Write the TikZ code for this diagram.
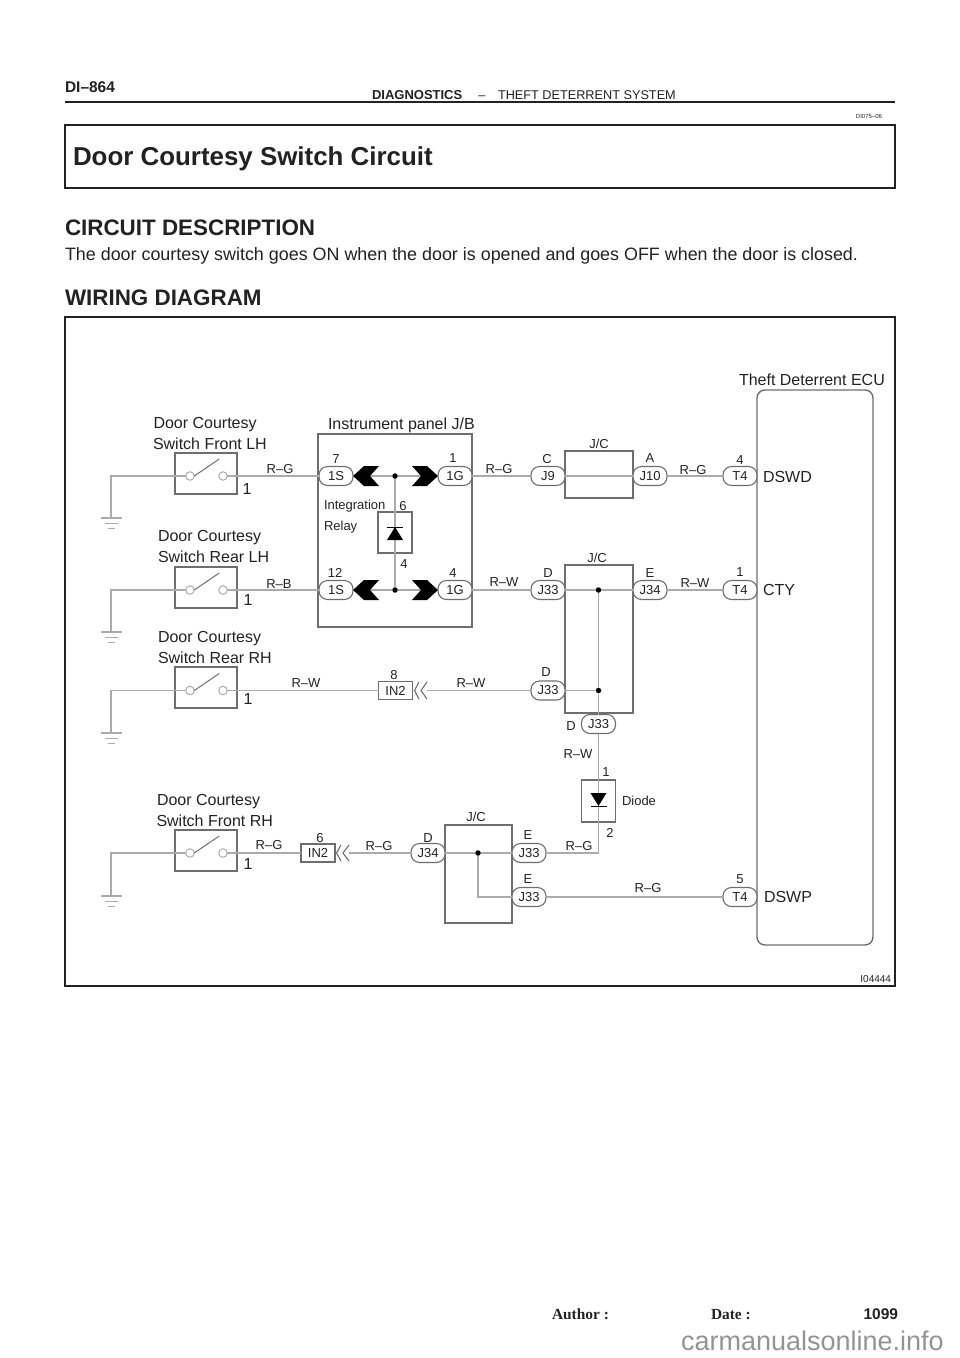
\documentclass[tikz,border=0pt]{standalone}
\usepackage{fontspec}
\setmainfont{Liberation Sans}
\newfontfamily\timesf{Liberation Serif}
\definecolor{ink}{HTML}{222222}
\definecolor{wirec}{HTML}{ABABAB}
\definecolor{boxc}{HTML}{6E6E6E}
\newcommand{\fs}[1]{\fontsize{#1}{#1}\selectfont}
\tikzset{
  every node/.style={inner sep=0pt,outer sep=0pt,text=ink},
  small/.style={font=\fs{13}},
  big/.style={font=\fs{16}},
  wire/.style={draw=wirec,line width=1.2pt},
  boxl/.style={draw=boxc,line width=1.4pt},
  pill/.style={draw=boxc,fill=white,line width=1.1pt,rounded corners=8.5pt,minimum width=34pt,minimum height=19pt,font=\fs{13}},
  rectconn/.style={draw=boxc,fill=white,line width=1.3pt,minimum width=34pt,minimum height=18pt,font=\fs{13}},
  frame/.style={draw=ink,line width=1.6pt},
  contact/.style={circle,draw=wirec,fill=white,line width=1pt,minimum size=8.5pt},
  junction/.style={circle,fill=black,minimum size=5.5pt},
  gbar/.style={draw=wirec,line width=1.3pt},
  schev/.style={draw=boxc,line width=1.1pt,fill=none},
}
% id, box top, wire y, box bottom, ground y, number x, number y
\newcommand{\doorsw}[7]{%
  \node[draw=boxc,line width=1.4pt,minimum width=62pt,minimum height=#4pt-#2pt,anchor=north west] (#1) at (175,#2) {};
  \node[contact] (#1l) at (190,#3) {};
  \node[contact] (#1r) at (223,#3) {};
  \coordinate (#1g) at (111,#5);
  \draw[draw=boxc,line width=1pt] (#1l.east) -- ++(25,-17);
  \draw[wire] (#1l) -| (#1g);
  \draw[gbar] ([xshift=-10.5pt]#1g) -- ([xshift=10.5pt]#1g);
  \draw[gbar,line width=.9pt] ([xshift=-6.5pt,yshift=-5.5pt]#1g) -- ([xshift=6.5pt,yshift=-5.5pt]#1g);
  \draw[gbar,line width=.9pt] ([xshift=-3.5pt,yshift=-10.5pt]#1g) -- ([xshift=3.5pt,yshift=-10.5pt]#1g);
  \node[big] at (#6,#7) {1};
}
\begin{document}
\begin{tikzpicture}[x=1pt,y=-1pt]
\useasboundingbox (0,0) rectangle (960,1358);
% header
\node[anchor=base west,font=\bfseries\fs{15.5}] (hdr) at (65,92) {DI–864};
\node[anchor=base west,font=\bfseries\fs{13}] (hdra) at (372,99) {DIAGNOSTICS};
\node[anchor=base,font=\fs{12.7}] (hdrb) at (482,99) {–};
\node[anchor=base west,font=\fs{12.7}] (hdrc) at (498,99) {THEFT DETERRENT SYSTEM};
\draw[frame] (65,102) -- (895,102);
\node[anchor=base east,font=\fs{6}] (docid) at (882,118) {DI075–06};
\draw[frame] (65,125) rectangle (895,188);
\node[anchor=base west,font=\bfseries\fs{25.9}] (title) at (73,165) {Door Courtesy Switch Circuit};
\node[anchor=base west,font=\bfseries\fs{22.4}] (cd) at (65,235) {CIRCUIT DESCRIPTION};
\node[anchor=base west,font=\fs{17.9}] (body) at (65,260) {The door courtesy switch goes ON when the door is opened and goes OFF when the door is closed.};
\node[anchor=base west,font=\bfseries\fs{22.4}] (wd) at (65,305) {WIRING DIAGRAM};
\draw[frame] (65,317) rectangle (895,986);
\node[anchor=base east,font=\fs{10}] (fig) at (891,982) {I04444};
% footer
\node[anchor=base west,font=\timesf\bfseries\fs{15.4}] (auth) at (552,1319) {Author :};
\node[anchor=base west,font=\timesf\bfseries\fs{15.4}] (dat) at (711,1319) {Date :};
\node[anchor=base east,font=\bfseries\fs{15.5}] (pg) at (898,1319) {1099};
\node[anchor=base west,font=\fs{27},text=gray!85] (wm) at (681,1350) {carmanualsonline.info};

% main boxes
\draw[boxl] (318,434) rectangle (472,627);
\draw[boxl] (565,451) rectangle (633,498);
\draw[boxl] (565,565) rectangle (633,713);
\draw[boxl] (445,825) rectangle (512,923);
\draw[boxl,rounded corners=8pt] (757,390) rectangle (873,945);
\draw[boxl] (378,512) rectangle (412,553);
\node[draw=boxc,line width=1.4pt,minimum width=34pt,minimum height=42pt] (dio) at (598.5,801) {};

% connectors
\node[pill] (s1) at (336,476) {1S};
\node[pill] (g1) at (455,476) {1G};
\node[pill] (s2) at (336,590) {1S};
\node[pill] (g2) at (455,590) {1G};
\node[pill] (j9) at (548,476) {J9};
\node[pill] (j10) at (650,476) {J10};
\node[pill] (t4a) at (740,476) {T4};
\node[pill] (j33a) at (548,590) {J33};
\node[pill] (j34a) at (650,590) {J34};
\node[pill] (t4b) at (740,590) {T4};
\node[pill] (j33b) at (548,690.5) {J33};
\node[pill] (j33c) at (598.5,724) {J33};
\node[rectconn] (in2a) at (395.5,690.5) {IN2};
\node[rectconn] (in2b) at (318,853) {IN2};
\node[pill] (j34b) at (428,853) {J34};
\node[pill] (j33d) at (529,853) {J33};
\node[pill] (j33e) at (529,897) {J33};
\node[pill] (t4c) at (740,897) {T4};

% junctions
\node[junction] (d1) at (395,476) {};
\node[junction] (d2) at (395,590) {};
\node[junction] (d3) at (598.5,590) {};
\node[junction] (d4) at (598.5,690.5) {};
\node[junction] (d5) at (478,853) {};

% switches
\doorsw{swa}{453}{476}{494}{518}{247}{489}
\doorsw{swb}{567}{590}{608}{632}{248}{600}
\doorsw{swc}{667}{690.5}{708}{733}{248}{699}
\doorsw{swd}{830}{853}{871}{896}{248}{864}

% wires
\draw[wire] (swar) -- (s1);
\draw[wire] (swbr) -- (s2);
\draw[wire] (swcr) -- (in2a);
\draw[wire] (swdr) -- (in2b);
\draw[wire] (s1) -- (d1);
\draw[wire] (d1) -- (g1);
\draw[wire] (s2) -- (d2);
\draw[wire] (d2) -- (g2);
\draw[wire] (d1) -- (d2);
\draw[wire] (g1) -- (j9);
\draw[wire] (j9) -- (j10);
\draw[wire] (j10) -- (t4a);
\draw[wire] (g2) -- (j33a);
\draw[wire] (j33a) -- (d3);
\draw[wire] (d3) -- (j34a);
\draw[wire] (j34a) -- (t4b);
\draw[wire] (d3) -- (d4);
\draw[wire] (d4) -- (j33c);
\draw[wire] (d4) -- (j33b);
\coordinate (cha) at (427,690.5);
\coordinate (chb) at (349,853);
\draw[wire] (cha) -- (j33b);
\draw[wire] (chb) -- (j34b);
\draw[wire] (j33c) -- (dio);
\draw[wire] (dio.north) -- (dio.south);
\draw[wire] (dio.south) |- (j33d);
\draw[wire] (j34b) -- (d5);
\draw[wire] (d5) -- (j33d);
\draw[wire] (d5) |- (j33e);
\draw[wire] (j33e) -- (t4c);

% black chevrons
\foreach \yy in {476,590}{
  \fill[black] (353,\yy) -- (364,\yy-10) -- (379,\yy-10) -- (370,\yy) -- (379,\yy+10) -- (364,\yy+10) -- cycle;
  \fill[black] (438,\yy) -- (427,\yy-10) -- (412,\yy-10) -- (421,\yy) -- (412,\yy+10) -- (427,\yy+10) -- cycle;
}
% thin chevrons
\draw[schev] (419,682) -- (414.5,690.5) -- (419,699);
\draw[schev] (427,682) -- (421,690.5) -- (427,699);
\draw[schev] (341,845) -- (336.5,853) -- (341,861);
\draw[schev] (349,845) -- (343,853) -- (349,861);

% diodes
\fill[black] (395,527) -- (387,540) -- (403,540) -- cycle;
\draw[black,line width=1pt] (387,527) -- (403,527);
\fill[black] (590.5,793) -- (606.5,793) -- (598.5,806) -- cycle;
\draw[black,line width=1pt] (590.5,806.5) -- (606.5,806.5);

% texts
\node[big,anchor=base west] (ta1) at (153.5,428) {Door Courtesy};
\node[big,anchor=base west] (ta2) at (153,449) {Switch Front LH};
\node[big,anchor=base west] (tb1) at (158,541) {Door Courtesy};
\node[big,anchor=base west] (tb2) at (158,562) {Switch Rear LH};
\node[big,anchor=base west] (tc1) at (158,642) {Door Courtesy};
\node[big,anchor=base west] (tc2) at (158,663) {Switch Rear RH};
\node[big,anchor=base west] (td1) at (157,805) {Door Courtesy};
\node[big,anchor=base west] (td2) at (156.5,826) {Switch Front RH};
\node[big,anchor=base west] (jb) at (328,429) {Instrument panel J/B};
\node[big,anchor=base west] (ecu) at (739,385) {Theft Deterrent ECU};
\node[big,anchor=west] (p1) at (763,477) {DSWD};
\node[big,anchor=west] (p2) at (763,590) {CTY};
\node[big,anchor=west] (p3) at (764,897) {DSWP};
\node[small,anchor=west] (it1) at (324,506) {Integration};
\node[small,anchor=west] (it2) at (324,527) {Relay};
\node[small,anchor=west] (it3) at (622,801) {Diode};
\foreach \xx/\yy/\tt in {
 280/469/R–G, 279/584/R–B, 306/683/R–W, 471/683/R–W, 269/845/R–G, 379/846/R–G,
 336/459/7, 453/458/1, 335/573/12, 453/573/4, 403/506/6, 404/564/4,
 394/675/8, 320/838/6,
 499/469/R–G, 547/459/C, 650/458/A, 693/470/R–G, 740/460/4,
 504/582/R–W, 548/573/D, 650/573/E, 695/583/R–W, 740/572/1,
 546/672/D, 571/726/D, 578/754/R–W, 606/772/1, 610/833/2,
 579/846/R–G, 528/835/E, 528/879/E, 648/888/R–G, 740/879/5, 428/838/D}
 {\node[small] at (\xx,\yy) {\tt};}
\node[small] (jca) at (599,444) {J/C};
\node[small] (jcb) at (597,558) {J/C};
\node[small] (jcc) at (476,817) {J/C};
\end{tikzpicture}
\end{document}
